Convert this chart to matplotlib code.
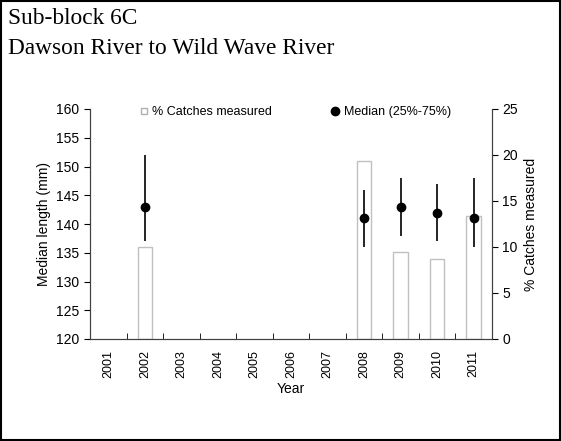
import numpy as np
import matplotlib.pyplot as plt
from matplotlib.lines import Line2D
from matplotlib.patches import Rectangle

years = ['2001', '2002', '2003', '2004', '2005', '2006', '2007', '2008', '2009', '2010', '2011']
pct_measured = [np.nan, 10.0, np.nan, np.nan, np.nan, np.nan, np.nan, 19.3, 9.5, 8.7, 13.4]
median_len = [np.nan, 143, np.nan, np.nan, np.nan, np.nan, np.nan, 141, 143, 142, 141]
q25 = [np.nan, 137, np.nan, np.nan, np.nan, np.nan, np.nan, 136, 138, 137, 136]
q75 = [np.nan, 152, np.nan, np.nan, np.nan, np.nan, np.nan, 146, 148, 147, 148]

plt.rcParams['font.family'] = ['Liberation Sans', 'DejaVu Sans']

fig = plt.figure(figsize=(5.61, 4.41), dpi=100)
fig.patches.append(Rectangle((0.002, 0.002), 0.996, 0.996, transform=fig.transFigure,
                             fill=False, edgecolor='black', linewidth=1.5))

# title block, top left
fig.text(0.014, 0.958, 'Sub-block 6C', family='Liberation Serif', fontsize=16.8, va='center')
fig.text(0.014, 0.89, 'Dawson River to Wild Wave River', family='Liberation Serif', fontsize=16.8, va='center')

ax = fig.add_axes([90 / 561, 1 - 339 / 441, 402 / 561, 230 / 441])
ax2 = ax.twinx()

x = np.arange(len(years))
ax2.bar(x, pct_measured, width=0.4, facecolor='white', edgecolor='#c0c0c0', linewidth=1.0)
ax2.set_ylim(0, 25)
ax2.set_yticks(range(0, 26, 5))
ax2.set_ylabel('% Catches measured', fontsize=10)

ax.set_zorder(ax2.get_zorder() + 1)
ax.patch.set_visible(False)
med = np.array(median_len, dtype=float)
ax.errorbar(x, med, yerr=[med - np.array(q25), np.array(q75) - med], fmt='o', color='black',
            markersize=6, elinewidth=1.2, capsize=0)
ax.set_ylim(120, 160)
ax.set_yticks(range(120, 161, 5))
ax.set_xlim(-0.5, len(years) - 0.5)
ax.set_xticks(x)
ax.set_xticklabels(years, rotation=90, fontsize=9)
ax.set_xticks(np.arange(-0.5, len(years), 1), minor=True)
ax.tick_params(axis='x', which='major', length=0, pad=8)
ax.tick_params(axis='x', which='minor', length=4, direction='in')
ax.tick_params(axis='y', labelsize=10, direction='out', length=4)
ax2.tick_params(axis='y', labelsize=10, direction='out', length=4)
ax.set_ylabel('Median length (mm)', fontsize=10)
ax.set_xlabel('Year', fontsize=10, labelpad=3)

for a in (ax, ax2):
    a.spines['top'].set_visible(False)
    for s in a.spines.values():
        s.set_color('#404040')

handles = [Line2D([], [], marker='s', linestyle='none', markerfacecolor='white',
                  markeredgecolor='#b0b0b0', markersize=5),
           Line2D([], [], marker='o', linestyle='none', color='black', markersize=6)]
ax.legend(handles, ['% Catches measured', 'Median (25%-75%)'], loc='upper center',
          ncol=2, frameon=False, fontsize=9, handletextpad=-0.3, columnspacing=4,
          bbox_to_anchor=(0.5, 1.06))

fig.savefig('out.png', dpi=100)
